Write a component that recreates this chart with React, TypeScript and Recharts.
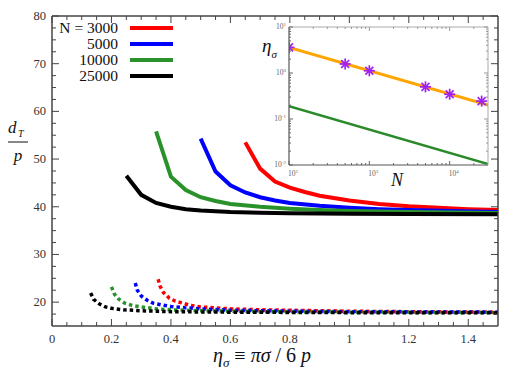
import React from 'react';
import { LineChart, ComposedChart, Line, Scatter, XAxis, YAxis, Label } from 'recharts';

// legend / series
const seriesNames = ['N = 3000', '5000', '10000', '25000'];
const seriesColors = ['#ff0000', '#0000ff', '#2a922a', '#000000'];

// solid curves (eta_sigma, d_T / p)
const solid3000 = [[0.65, 53.5], [0.7, 48.0], [0.75, 45.3], [0.8, 44.0], [0.85, 43.1], [0.9, 42.3], [1.0, 41.3], [1.1, 40.6], [1.2, 40.1], [1.3, 39.8], [1.4, 39.5], [1.5, 39.3]];
const solid5000 = [[0.5, 54.3], [0.55, 47.4], [0.6, 44.5], [0.65, 43.0], [0.7, 42.0], [0.75, 41.3], [0.8, 40.8], [0.9, 40.2], [1.0, 39.8], [1.1, 39.5], [1.2, 39.3], [1.35, 39.1], [1.5, 38.9]];
const solid10000 = [[0.35, 55.8], [0.4, 46.3], [0.45, 43.5], [0.5, 42.0], [0.55, 41.2], [0.6, 40.6], [0.7, 40.0], [0.8, 39.6], [0.9, 39.3], [1.0, 39.1], [1.2, 38.9], [1.5, 38.7]];
const solid25000 = [[0.25, 46.5], [0.3, 42.5], [0.35, 40.8], [0.4, 40.0], [0.45, 39.5], [0.5, 39.2], [0.6, 38.9], [0.7, 38.75], [0.8, 38.65], [1.0, 38.55], [1.2, 38.5], [1.5, 38.45]];

// dotted curves
const dotted3000 = [[0.357, 24.8], [0.363, 23.4], [0.375, 22.0], [0.395, 20.8], [0.415, 20.2], [0.44, 19.8], [0.46, 19.4], [0.5, 19.0], [0.6, 18.6], [0.7, 18.4], [0.8, 18.3], [1.0, 18.1], [1.2, 18.0], [1.5, 17.9]];
const dotted5000 = [[0.28, 24.0], [0.287, 22.5], [0.3, 21.3], [0.32, 20.4], [0.34, 19.8], [0.37, 19.4], [0.4, 19.1], [0.45, 18.8], [0.5, 18.6], [0.6, 18.3], [0.8, 18.1], [1.0, 18.0], [1.5, 17.9]];
const dotted10000 = [[0.2, 23.2], [0.21, 21.7], [0.225, 20.6], [0.245, 19.8], [0.27, 19.3], [0.3, 19.0], [0.35, 18.6], [0.4, 18.4], [0.5, 18.2], [0.7, 18.0], [1.0, 17.9], [1.5, 17.8]];
const dotted25000 = [[0.13, 21.9], [0.14, 20.6], [0.16, 19.6], [0.18, 19.0], [0.2, 18.7], [0.24, 18.4], [0.3, 18.2], [0.4, 18.0], [0.6, 17.9], [1.0, 17.8], [1.5, 17.75]];

// main axes ticks
const xMajor = [0, 0.2, 0.4, 0.6, 0.8, 1, 1.2, 1.4];
const xMinor = [0.05, 0.1, 0.15, 0.25, 0.3, 0.35, 0.45, 0.5, 0.55, 0.65, 0.7, 0.75, 0.85, 0.9, 0.95, 1.05, 1.1, 1.15, 1.25, 1.3, 1.35, 1.45];
const yMajor = [20, 30, 40, 50, 60, 70, 80];
const yMinor = [17.5, 22.5, 25, 27.5, 32.5, 35, 37.5, 42.5, 45, 47.5, 52.5, 55, 57.5, 62.5, 65, 67.5, 72.5, 75, 77.5];

// inset: eta_sigma vs N (log-log)
const insetFitN = [100, 30000];
const insetFitEta = [3.6, 0.2];
const insetLowN = [100, 30000];
const insetLowEta = [0.19, 0.0105];
const markerN = [100, 500, 1000, 5000, 10000, 25000];
const markerEta = [3.6, 1.57, 1.12, 0.5, 0.345, 0.245];
const insetXMajor = [100, 1000, 10000];
const insetXMinor = [200, 300, 400, 500, 600, 700, 800, 900, 2000, 3000, 4000, 5000, 6000, 7000, 8000, 9000, 20000];
const insetYMajor = [0.01, 0.1, 1, 10];
const insetYMinor = [0.02, 0.03, 0.04, 0.05, 0.06, 0.07, 0.08, 0.09, 0.2, 0.3, 0.4, 0.5, 0.6, 0.7, 0.8, 0.9, 2, 3, 4, 5, 6, 7, 8, 9];

const toPts = (pairs: number[][]) => pairs.map(([x, y]) => ({ x, y }));
const zipPts = (xs: number[], ys: number[]) => xs.map((x, i) => ({ x, y: ys[i] }));
const allTicks = (a: number[], b: number[]) => [...a, ...b].sort((p, q) => p - q);

const solids = [solid3000, solid5000, solid10000, solid25000];
const dotteds = [dotted3000, dotted5000, dotted10000, dotted25000];

const FONT = '"Liberation Serif", "Times New Roman", serif';
const AXIS = '#444';

// tick mark drawn inward from the frame, plus an optional label for major ticks
const FrameTick = ({ x, y, payload, side, majors, big, small, color, label }: any) => {
  const v = payload.value;
  const major = majors.includes(v);
  const len = major ? big : small;
  let l;
  if (side === 'bottom') l = <line x1={x} x2={x} y1={y} y2={y - len} />;
  else if (side === 'top') l = <line x1={x} x2={x} y1={y} y2={y + len} />;
  else if (side === 'left') l = <line x1={x} x2={x + len} y1={y} y2={y} />;
  else l = <line x1={x} x2={x - len} y1={y} y2={y} />;
  return (
    <g>
      <g stroke={color || AXIS} strokeWidth={1}>{l}</g>
      {major && label ? label(x, y, v) : null}
    </g>
  );
};

const mainXLabel = (x: number, y: number, v: number) => (
  <text x={x} y={y + 17} textAnchor="middle" style={{ fontFamily: FONT }} fontSize={12.5} fill="#333">{String(v)}</text>
);
const mainYLabel = (x: number, y: number, v: number) => (
  <text x={x - 6} y={y + 4} textAnchor="end" style={{ fontFamily: FONT }} fontSize={12.5} fill="#333">{String(v)}</text>
);
const powText = (v: number) => {
  const exp = Math.round(Math.log10(v));
  return [<React.Fragment key="b">10</React.Fragment>, <tspan key="e" fontSize={5} dy={-3}>{exp}</tspan>];
};
const insetXLabel = (x: number, y: number, v: number) => (
  <text x={x - 1} y={y + 11} textAnchor="start" style={{ fontFamily: FONT }} fontSize={7.5} fill="#666">{powText(v)}</text>
);
const insetYLabel = (x: number, y: number, v: number) => (
  <text x={x - 3} y={y + 2} textAnchor="end" style={{ fontFamily: FONT }} fontSize={7.5} fill="#666">{powText(v)}</text>
);

const XTitle = ({ viewBox }: any) => {
  const x = viewBox.x + 161;
  const y = viewBox.y + 36;
  return (
    <text x={x} y={y} style={{ fontFamily: FONT }} fontSize={20} fill="#111">
      <tspan fontStyle="italic">η</tspan>
      <tspan fontStyle="italic" fontSize={13} dy={5}>σ</tspan>
      <tspan dy={-5}>{'\u00a0≡\u00a0'}</tspan>
      <tspan fontStyle="italic">πσ</tspan>
      <tspan>{'\u00a0/\u00a06\u00a0'}</tspan>
      <tspan fontStyle="italic">p</tspan>
    </text>
  );
};

const YTitle = ({ viewBox }: any) => {
  const x = viewBox.x;
  const y = viewBox.y;
  return (
    <g style={{ fontFamily: FONT }} fill="#111" fontStyle="italic">
      <text x={x} y={y + 117} fontSize={17}>d</text>
      <text x={x + 10} y={y + 121} fontSize={10}>T</text>
      <line x1={x} x2={x + 20} y1={y + 126} y2={y + 126} stroke="#111" strokeWidth={1} />
      <text x={x + 10} y={y + 145} fontSize={17} textAnchor="middle">p</text>
    </g>
  );
};

const InsetXTitle = ({ viewBox }: any) => (
  <text x={viewBox.x + 108} y={viewBox.y + 21} textAnchor="middle" style={{ fontFamily: FONT }} fontStyle="italic" fontSize={18} fill="#111">N</text>
);

const InsetYTitle = ({ viewBox }: any) => (
  <text x={viewBox.x + 12} y={viewBox.y + 25} style={{ fontFamily: FONT }} fontStyle="italic" fontSize={19} fill="#111">
    η<tspan fontSize={11} dy={6}>σ</tspan>
  </text>
);

const Asterisk = ({ cx, cy }: any) => {
  if (cx == null || cy == null) return null;
  const r = 5.5;
  const d = r * 0.72;
  return (
    <g stroke="#a020f0" strokeWidth={1.7}>
      <line x1={cx - r} y1={cy} x2={cx + r} y2={cy} />
      <line x1={cx} y1={cy - r} x2={cx} y2={cy + r} />
      <line x1={cx - d} y1={cy - d} x2={cx + d} y2={cy + d} />
      <line x1={cx - d} y1={cy + d} x2={cx + d} y2={cy - d} />
    </g>
  );
};

function Inset() {
  const xd = [100, 30000];
  const yd = [0.01, 10];
  const xt = allTicks(insetXMajor, insetXMinor);
  const yt = allTicks(insetYMajor, insetYMinor);
  const dark = { stroke: '#555', strokeWidth: 1.2 };
  const light = { stroke: '#aaa', strokeWidth: 1 };
  return (
    <ComposedChart width={248} height={170} margin={{ top: 6, right: 9, left: 0, bottom: 0 }}>
      <XAxis xAxisId="ix" dataKey="x" type="number" scale="log" domain={xd} allowDataOverflow ticks={xt}
        interval={0} tickLine={false} tickSize={0} tickMargin={0} height={25} axisLine={dark}
        tick={<FrameTick side="bottom" majors={insetXMajor} big={4} small={2} color="#666" label={insetXLabel} />}>
        <Label content={<InsetXTitle />} />
      </XAxis>
      <XAxis xAxisId="ixt" orientation="top" dataKey="x" type="number" scale="log" domain={xd} allowDataOverflow ticks={xt}
        interval={0} tickLine={false} tickSize={0} tickMargin={0} height={1} axisLine={light}
        tick={<FrameTick side="top" majors={insetXMajor} big={4} small={2} color="#999" />} />
      <YAxis yAxisId="iy" dataKey="y" type="number" scale="log" domain={yd} allowDataOverflow ticks={yt}
        interval={0} tickLine={false} tickSize={0} tickMargin={0} width={39} axisLine={dark}
        tick={<FrameTick side="left" majors={insetYMajor} big={4} small={2} color="#666" label={insetYLabel} />}>
        <Label content={<InsetYTitle />} />
      </YAxis>
      <YAxis yAxisId="iyr" orientation="right" dataKey="y" type="number" scale="log" domain={yd} allowDataOverflow ticks={yt}
        interval={0} tickLine={false} tickSize={0} tickMargin={0} width={1} axisLine={light}
        tick={<FrameTick side="right" majors={insetYMajor} big={4} small={2} color="#999" />} />
      <Line xAxisId="ix" yAxisId="iy" data={zipPts(insetLowN, insetLowEta)} dataKey="y" stroke="#2a8a2a" strokeWidth={2.5} dot={false} isAnimationActive={false} />
      <Line xAxisId="ix" yAxisId="iy" data={zipPts(insetFitN, insetFitEta)} dataKey="y" stroke="#ffa500" strokeWidth={3} dot={false} isAnimationActive={false} />
      <Scatter xAxisId="ixt" yAxisId="iyr" data={zipPts(markerN, markerEta)} dataKey="y" shape={<Asterisk />} isAnimationActive={false} />
    </ComposedChart>
  );
}

export default function App() {
  const xd = [0, 1.5];
  const yd = [15, 80];
  const frame = { stroke: AXIS, strokeWidth: 1.5 };
  const xt = allTicks(xMajor, xMinor);
  const yt = allTicks(yMajor, yMinor);
  return (
    <div style={{ position: 'relative', width: 500, height: 373, fontFamily: FONT }}>
      <LineChart width={500} height={373} margin={{ top: 7, right: 9, left: 0, bottom: 0 }}>
        <XAxis xAxisId="x" dataKey="x" type="number" domain={xd} allowDataOverflow ticks={xt} interval={0}
          tickLine={false} tickSize={0} tickMargin={0} height={55} axisLine={frame}
          tick={<FrameTick side="bottom" majors={xMajor} big={7} small={4} label={mainXLabel} />}>
          <Label content={<XTitle />} />
        </XAxis>
        <XAxis xAxisId="xt" orientation="top" dataKey="x" type="number" domain={xd} allowDataOverflow ticks={xt} interval={0}
          tickLine={false} tickSize={0} tickMargin={0} height={1} axisLine={frame}
          tick={<FrameTick side="top" majors={xMajor} big={7} small={4} />} />
        <YAxis yAxisId="y" type="number" domain={yd} allowDataOverflow ticks={yt} interval={0}
          tickLine={false} tickSize={0} tickMargin={0} width={44} axisLine={frame}
          tick={<FrameTick side="left" majors={yMajor} big={7} small={4} label={mainYLabel} />}>
          <Label content={<YTitle />} />
        </YAxis>
        <YAxis yAxisId="yr" orientation="right" type="number" domain={yd} allowDataOverflow ticks={yt} interval={0}
          tickLine={false} tickSize={0} tickMargin={0} width={1} axisLine={frame}
          tick={<FrameTick side="right" majors={yMajor} big={7} small={4} />} />
        {dotteds.map((pts, i) => (
          <Line key={'d' + i} xAxisId="xt" yAxisId="yr" data={toPts(pts)} dataKey="y" stroke={seriesColors[i]}
            strokeWidth={3.5} strokeDasharray="3.5 3" dot={false} isAnimationActive={false} />
        ))}
        {solids.map((pts, i) => (
          <Line key={'s' + i} xAxisId="x" yAxisId="y" data={toPts(pts)} dataKey="y" name={seriesNames[i]}
            stroke={seriesColors[i]} strokeWidth={4} dot={false} isAnimationActive={false} />
        ))}
      </LineChart>
      <div style={{ position: 'absolute', left: 242, top: 12 }}>
        <Inset />
      </div>
      <div style={{ position: 'absolute', left: 0, top: 12, fontSize: 15.5, color: '#111' }}>
        {seriesNames.map((n, i) => (
          <div key={n} style={{ display: 'flex', alignItems: 'center', height: 16 }}>
            <span style={{ width: 110, textAlign: 'right', whiteSpace: 'nowrap' }}>{n}</span>
            <span style={{ marginLeft: 12, width: 43, height: 4, background: seriesColors[i] }} />
          </div>
        ))}
      </div>
    </div>
  );
}
